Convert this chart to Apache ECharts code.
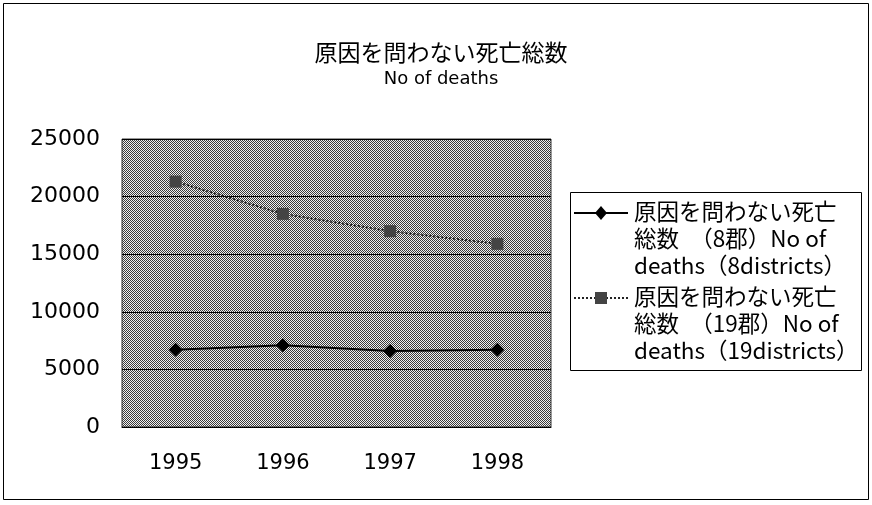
<!DOCTYPE html>
<html>
<head>
<meta charset="utf-8">
<script src="https://cdn.jsdelivr.net/npm/echarts@6/dist/echarts.min.js"></script>
<style>
  html, body { margin: 0; padding: 0; background: #fff; }
  #chart { width: 872px; height: 505px; }
</style>
</head>
<body>
<div id="chart"></div>
<script>
    // データ
    var years = ['1995', '1996', '1997', '1998'];
    var deaths8 = [6700, 7100, 6600, 6700];
    var deaths19 = [21300, 18500, 17000, 15900];
    var name8 = '原因を問わない死亡\n総数　（8郡）No of\ndeaths（8districts）';
    var name19 = '原因を問わない死亡\n総数　（19郡）No of\ndeaths（19districts）';

    // 網掛けの背景パターン
    function makePattern(dark, light) {
        var c = document.createElement('canvas');
        c.width = 2;
        c.height = 2;
        var ctx = c.getContext('2d');
        ctx.fillStyle = light;
        ctx.fillRect(0, 0, 2, 2);
        ctx.fillStyle = dark;
        ctx.fillRect(0, 0, 1, 1);
        ctx.fillRect(1, 1, 1, 1);
        return {image: c, repeat: 'repeat'};
    }

    var jpFont = '"Noto Sans CJK JP", sans-serif';
    var numFont = '"DejaVu Sans", sans-serif';

    var chart = echarts.init(document.getElementById('chart'));

    var op = {
        backgroundColor: '#fff',
        animation: false,
        title: {
            text: '原因を問わない死亡総数',
            subtext: 'No of deaths',
            left: 436,
            textAlign: 'center',
            top: 36,
            itemGap: 6,
            textStyle: {fontFamily: jpFont, fontSize: 23, fontWeight: 'normal', color: '#000'},
            subtextStyle: {fontFamily: numFont, fontSize: 18, color: '#000'}
        },
        grid: {
            left: 122,
            top: 139,
            width: 429,
            height: 288,
            show: true,
            backgroundColor: makePattern('#3a3a3a', '#f0f0f0'),
            borderColor: '#333',
            borderWidth: 1
        },
        xAxis: {
            type: 'category',
            data: years,
            boundaryGap: true,
            axisLine: {lineStyle: {color: '#000', width: 1}},
            axisTick: {show: false},
            axisLabel: {fontFamily: numFont, fontSize: 21, color: '#000', margin: 26}
        },
        yAxis: {
            type: 'value',
            min: 0,
            max: 25000,
            interval: 5000,
            axisLine: {show: false},
            axisTick: {show: false},
            axisLabel: {
                fontFamily: numFont, fontSize: 22, color: '#000', margin: 22,
                formatter: function (v) { return String(v); }
            },
            splitLine: {lineStyle: {color: '#000', width: 1}}
        },
        series: [
            {
                name: name8,
                type: 'line',
                data: deaths8,
                symbol: 'diamond',
                symbolSize: 14,
                itemStyle: {color: '#000'},
                lineStyle: {color: '#000', width: 2}
            },
            {
                name: name19,
                type: 'line',
                data: deaths19,
                symbol: 'rect',
                symbolSize: 12,
                itemStyle: {color: '#444'},
                lineStyle: {color: '#222', width: 2, type: 'dotted'}
            }
        ],
        graphic: [
            // 外枠
            {
                type: 'rect',
                shape: {x: 3.5, y: 3.5, width: 865, height: 496},
                style: {fill: 'none', stroke: '#000', lineWidth: 1}
            },
            // 凡例枠
            {
                type: 'rect',
                shape: {x: 570.5, y: 192.5, width: 291, height: 178},
                style: {fill: '#fff', stroke: '#000', lineWidth: 1}
            },
            {
                type: 'line',
                shape: {x1: 574, y1: 213, x2: 628, y2: 213},
                style: {stroke: '#000', lineWidth: 2}
            },
            {
                type: 'polygon',
                shape: {points: [[601, 206], [607, 213], [601, 220], [595, 213]]},
                style: {fill: '#000'}
            },
            {
                type: 'text',
                left: 634,
                top: 198,
                style: {text: name8, fontFamily: jpFont, fontSize: 22.5, lineHeight: 27, fill: '#000'}
            },
            {
                type: 'line',
                shape: {x1: 574, y1: 298, x2: 628, y2: 298},
                style: {stroke: '#222', lineWidth: 2, lineDash: [2, 2]}
            },
            {
                type: 'rect',
                shape: {x: 595, y: 292, width: 12, height: 12},
                style: {fill: '#444'}
            },
            {
                type: 'text',
                left: 634,
                top: 283,
                style: {text: name19, fontFamily: jpFont, fontSize: 22.5, lineHeight: 27, fill: '#000'}
            }
        ]
    };
    chart.setOption(op);
</script>
</body>
</html>
